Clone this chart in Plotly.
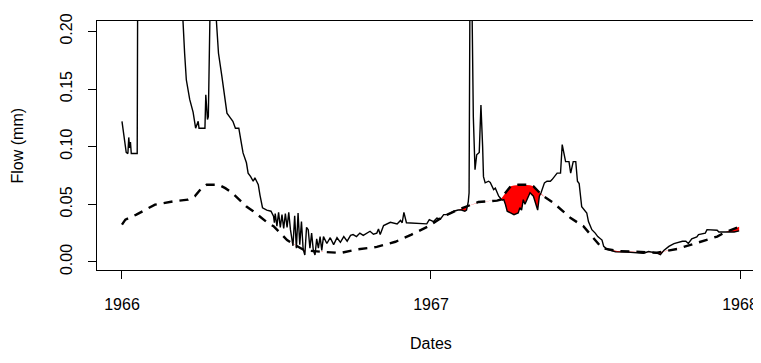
import numpy as np
import pandas as pd
import plotly.graph_objects as go

# ---- data (days since 1966-01-01) ----
flow_day = [0, 3, 5, 7, 8, 9, 10, 11, 18, 19, 30, 45, 60, 68, 72, 74, 76, 80, 84, 87, 90, 91, 98, 99,
            101, 102, 104, 108, 111, 114, 118, 122, 124, 128, 131, 134, 138, 141, 143, 147, 149, 152,
            155, 157, 161, 163, 166, 171, 176, 179, 180, 181, 183, 185, 187, 189, 191, 193, 195, 197,
            199, 202, 204, 206, 208, 210, 212, 214, 216, 218, 220, 222, 224, 226, 228, 230, 232, 234,
            236, 238, 242, 246, 250, 254, 258, 262, 266, 270, 273, 277, 281, 285, 289, 293, 297, 301,
            303, 305, 309, 313, 317, 325, 329, 331, 333, 336, 344, 352, 360, 363, 368, 372, 376, 380,
            385, 392, 397, 401, 405, 407, 409, 410, 411, 412, 413, 415, 417, 419, 422, 424, 426, 427,
            429, 433, 435, 437, 439, 441, 445, 449, 451, 453, 455, 459, 463, 468, 470, 472, 474, 476,
            478, 482, 486, 489, 491, 493, 495, 499, 502, 506, 508, 514, 518, 520, 524, 528, 530, 533,
            536, 538, 540, 543, 546, 549, 551, 555, 559, 562, 567, 569, 573, 583, 597, 608, 616, 622,
            632, 636, 640, 646, 652, 662, 666, 669, 673, 679, 681, 689, 691, 703, 705, 715, 723, 729]
flow_val = [0.122, 0.108, 0.095, 0.094, 0.108, 0.099, 0.104, 0.094, 0.094, 0.35, 0.60, 0.75, 0.45,
            0.28, 0.21, 0.181, 0.158, 0.141, 0.130, 0.116, 0.122, 0.116, 0.116, 0.145, 0.1235, 0.126,
            0.30, 0.40, 0.215, 0.181, 0.161, 0.141, 0.129, 0.125, 0.122, 0.116, 0.116, 0.103, 0.0946,
            0.086, 0.077, 0.074, 0.070, 0.073, 0.067, 0.058, 0.047, 0.045, 0.044, 0.0396, 0.034, 0.042,
            0.031, 0.043, 0.030, 0.041, 0.029, 0.042, 0.030, 0.043, 0.028, 0.014, 0.040, 0.012, 0.0425,
            0.015, 0.035, 0.011, 0.006, 0.030, 0.028, 0.012, 0.025, 0.010, 0.006, 0.020, 0.012, 0.022,
            0.010, 0.022, 0.016, 0.021, 0.015, 0.021, 0.017, 0.022, 0.018, 0.023, 0.0237, 0.022, 0.025,
            0.023, 0.025, 0.0266, 0.024, 0.025, 0.0286, 0.0237, 0.0315, 0.033, 0.0344, 0.033, 0.036,
            0.034, 0.043, 0.034, 0.0338, 0.033, 0.033, 0.0367, 0.035, 0.038, 0.037, 0.041, 0.041,
            0.044, 0.045, 0.045, 0.044, 0.045, 0.052, 0.060, 0.25, 0.40, 0.25, 0.126, 0.080, 0.093,
            0.095, 0.136, 0.100, 0.074, 0.0686, 0.070, 0.069, 0.0656, 0.0628, 0.064, 0.057, 0.0535,
            0.054, 0.0497, 0.044, 0.0425, 0.041, 0.0425, 0.047, 0.045, 0.054, 0.050, 0.053, 0.060,
            0.057, 0.050, 0.045, 0.057, 0.060, 0.0686, 0.070, 0.070, 0.0714, 0.077, 0.077, 0.1018,
            0.087, 0.087, 0.077, 0.087, 0.087, 0.070, 0.068, 0.048, 0.045, 0.0425, 0.035, 0.028, 0.025,
            0.022, 0.019, 0.0135, 0.011, 0.0087, 0.0085, 0.0082, 0.0075, 0.0090, 0.0076, 0.0063, 0.010,
            0.0135, 0.0159, 0.0179, 0.018, 0.016, 0.020, 0.0217, 0.0237, 0.025, 0.028, 0.0275, 0.026,
            0.026, 0.026, 0.027]

thr_day = [0, 4, 17, 21, 39, 61, 78, 86, 94, 100, 114, 122, 130, 143, 147, 155, 163, 172, 179, 186,
           195, 206, 216, 238, 258, 279, 301, 323, 342, 362, 380, 396, 407, 421, 443, 447, 453, 459,
           468, 480, 486, 496, 510, 530, 545, 557, 567, 585, 608, 632, 656, 664, 679, 703, 713, 729]
thr_val = [0.0324, 0.0367, 0.041, 0.0425, 0.0497, 0.0526, 0.054, 0.057, 0.064, 0.067, 0.067, 0.064,
           0.060, 0.051, 0.048, 0.044, 0.0396, 0.034, 0.031, 0.026, 0.019, 0.014, 0.010, 0.0087,
           0.0078, 0.011, 0.013, 0.0175, 0.0237, 0.031, 0.0396, 0.045, 0.048, 0.052, 0.0532, 0.054,
           0.060, 0.0656, 0.067, 0.067, 0.0656, 0.058, 0.051, 0.038, 0.031, 0.0208, 0.012, 0.0095,
           0.0085, 0.0080, 0.0113, 0.013, 0.0165, 0.022, 0.026, 0.0305]

x_tick_years = ["1966", "1967", "1968"]
y_ticks = [0.0, 0.05, 0.10, 0.15, 0.20]
y_tick_labels = ["0.00", "0.05", "0.10", "0.15", "0.20"]

start = pd.Timestamp("1966-01-01")
def to_date(days):
    return [start + pd.Timedelta(days=float(d)) for d in days]

# ---- red deficit area (threshold above flow) ----
grid = np.union1d(flow_day, thr_day).astype(float)
f = np.interp(grid, flow_day, flow_val)
t = np.interp(grid, thr_day, thr_val)
gx, gf, gt = [grid[0]], [f[0]], [t[0]]
for i in range(1, len(grid)):
    d0, d1 = f[i - 1] - t[i - 1], f[i] - t[i]
    if d0 * d1 < 0:
        r = d0 / (d0 - d1)
        gx.append(grid[i - 1] + r * (grid[i] - grid[i - 1]))
        v = t[i - 1] + r * (t[i] - t[i - 1])
        gf.append(v); gt.append(v)
    gx.append(grid[i]); gf.append(f[i]); gt.append(t[i])
gx = np.array(gx); gt = np.array(gt); low = np.minimum(gf, gt)

fig = go.Figure()
fig.add_trace(go.Scatter(x=to_date(gx), y=gt, mode="lines", line=dict(width=0),
                         hoverinfo="skip", showlegend=False))
fig.add_trace(go.Scatter(x=to_date(gx), y=low, mode="lines", line=dict(width=0),
                         fill="tonexty", fillcolor="#FF0000", hoverinfo="skip", showlegend=False))
fig.add_trace(go.Scatter(x=to_date(flow_day), y=flow_val, mode="lines",
                         line=dict(color="black", width=1.4), showlegend=False))
fig.add_trace(go.Scatter(x=to_date(thr_day), y=thr_val, mode="lines",
                         line=dict(color="black", width=2.4, dash="9px,7px"), showlegend=False))

# page body adds an 8px offset; figure sized so the plot box lands where the reference has it
W, H = 753, 355
L, R, T, B = 89, 0, 13, 93
pw, ph = W - L - R, H - T - B
OFF = 8
font = "Liberation Sans, Arial, Helvetica, sans-serif"

xr = [start + pd.Timedelta(days=-29.5), start + pd.Timedelta(days=754.8)]
fig.update_xaxes(type="date", range=xr, showgrid=False, zeroline=False,
                 showline=True, linecolor="black", linewidth=1, mirror=True,
                 ticks="outside", ticklen=8, tickcolor="black",
                 tickvals=[pd.Timestamp(f"{y}-01-01") for y in x_tick_years],
                 ticktext=x_tick_years, tickfont=dict(size=16, color="black", family=font),
                 ticklabelstandoff=12, automargin=False)
fig.update_yaxes(range=[-0.007, 0.209], showgrid=False, zeroline=False,
                 showline=True, linecolor="black", linewidth=1,
                 ticks="outside", ticklen=8, tickcolor="black",
                 tickvals=y_ticks, ticktext=y_tick_labels, tickangle=-90,
                 tickfont=dict(size=16, color="black", family=font),
                 ticklabelstandoff=10, automargin=False)

fig.add_annotation(text="Flow (mm)", xref="paper", yref="paper",
                   x=(17 - OFF - L) / pw, y=0.5, textangle=-90, showarrow=False,
                   xanchor="center", yanchor="middle",
                   font=dict(size=16, color="black", family=font))
fig.add_annotation(text="Dates", xref="paper", yref="paper",
                   x=(431 - OFF - L) / pw, y=-(343 - 270) / ph, showarrow=False,
                   xanchor="center", yanchor="middle",
                   font=dict(size=16, color="black", family=font))

fig.update_layout(width=W, height=H, margin=dict(l=L, r=R, t=T, b=B),
                  paper_bgcolor="white", plot_bgcolor="white", showlegend=False)
fig.write_html("out.html")
